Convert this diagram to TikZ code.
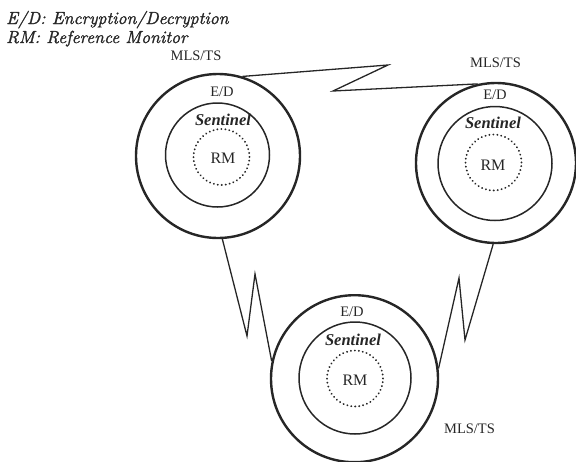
\documentclass[tikz,border=0pt]{standalone}
\usepackage{fontspec}
\newfontfamily\timesfont{Liberation Serif}
\newfontfamily\legendfont{lmroman10-italic}[Extension=.otf,FakeBold=1.2]
\begin{document}
\begin{tikzpicture}[x=1pt,y=-1pt,
  ink/.style={black!85},
  outerring/.style={ink,draw,circle,line width=2.4pt,inner sep=0pt},
  innerring/.style={ink,draw,circle,line width=1.5pt,inner sep=0pt},
  rmring/.style={ink,draw,circle,line width=2pt,inner sep=0pt,
    dash pattern=on 0.1pt off 3.9pt,line cap=round},
  link/.style={ink,line width=1.3pt,line join=miter},
  lbl/.style={ink,font=\timesfont\fontsize{14.5}{16}\selectfont,inner sep=0pt},
  rmlbl/.style={ink,font=\timesfont\fontsize{16}{18}\selectfont,inner sep=0pt},
  sent/.style={ink,font=\timesfont\bfseries\itshape\fontsize{16.5}{18}\selectfont,inner sep=0pt},
  legend/.style={ink,font=\legendfont\fontsize{17.5}{21}\selectfont,inner sep=0pt,anchor=base west}
]
\useasboundingbox (0,0) rectangle (576,461);

% legend
\node[legend] (leg1) at (6,24) {E/D: Encryption/Decryption};
\node[legend] (leg2) at (6,43) {RM: Reference Monitor};

% left site
\node[outerring,minimum size=164pt] (L) at (218,156) {};
\node[innerring,minimum size=104pt] (Li) at (217.5,155) {};
\node[rmring,minimum size=56pt] (Lr) at (221.5,157) {};
\node[lbl] (Lmls) at (196,56) {MLS/TS};
\node[lbl] (Led) at (222,92) {E/D};
\node[sent] (Lsen) at (223,120) {Sentinel};
\node[rmlbl] (Lrm) at (223,158) {RM};

% right site
\node[outerring,minimum size=160pt] (R) at (496,163) {};
\node[innerring,minimum size=114pt] (Ri) at (495,163.5) {};
\node[rmring,minimum size=56pt] (Rr) at (493.5,162.5) {};
\node[lbl] (Rmls) at (495.5,62.5) {MLS/TS};
\node[lbl] (Red) at (495,95) {E/D};
\node[sent] (Rsen) at (493,123) {Sentinel};
\node[rmlbl] (Rrm) at (493,165) {RM};

% bottom site
\node[outerring,minimum size=167pt] (B) at (354.5,378.7) {};
\node[innerring,minimum size=112pt] (Bi) at (355,378) {};
\node[rmring,minimum size=56pt] (Br) at (355,378.5) {};
\node[lbl] (Bmls) at (469.5,429) {MLS/TS};
\node[lbl] (Bed) at (352,312) {E/D};
\node[sent] (Bsen) at (353,340) {Sentinel};
\node[rmlbl] (Brm) at (355,380) {RM};

% zigzag links between sites
\draw[link] (L.73) -- (388,65) -- (333,91) -- (R.103);
\draw[link] (L.-87) -- (247,336) -- (255,274) -- (B.168);
\draw[link] (R.-92) -- (465,340) -- (459,278) -- (B.7);
\end{tikzpicture}
\end{document}
